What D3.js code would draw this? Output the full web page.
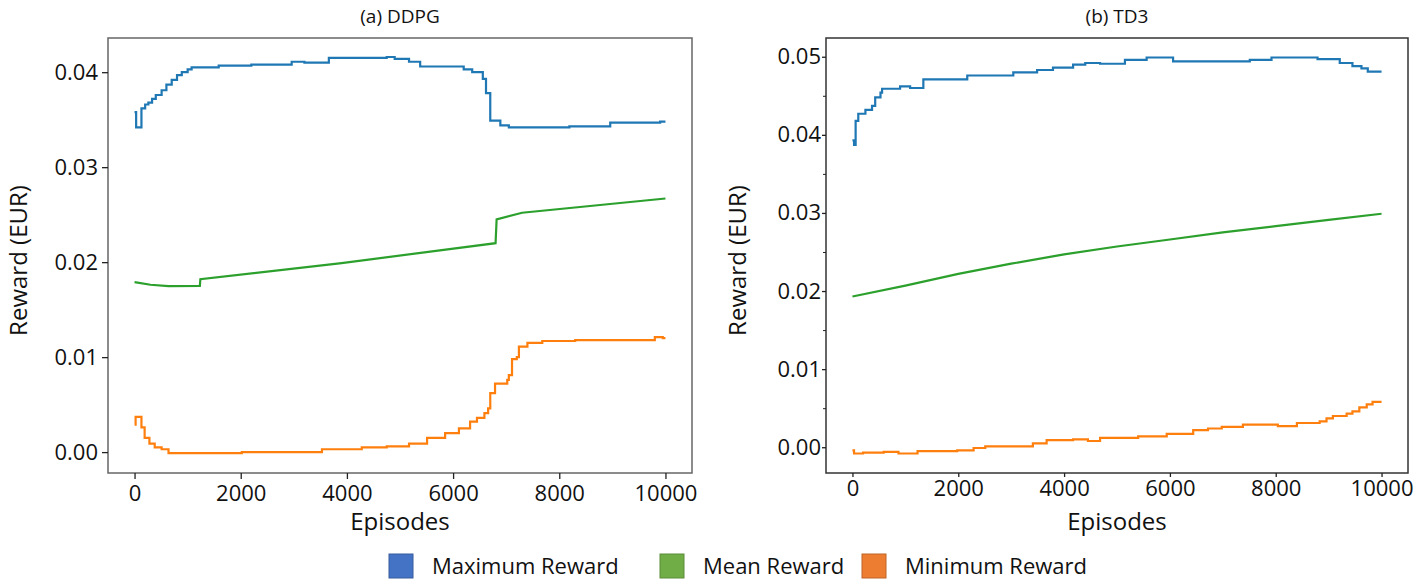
<!DOCTYPE html>
<html>
<head>
<meta charset="utf-8">
<script src="https://cdn.jsdelivr.net/npm/d3@7"></script>
<style>
  html, body { margin: 0; padding: 0; background: #fff; }
  svg { display: block; }
  text { font-family: "Open Sans", "Noto Sans", sans-serif; fill: #111; }
</style>
</head>
<body>
<svg id="chart" width="1415" height="580"></svg>
<script>
// ---------------- DATA ----------------
const seriesNames = ["Maximum Reward", "Mean Reward", "Minimum Reward"];
const panelTitles = ["(a) DDPG", "(b) TD3"];
const xTicks = [0, 2000, 4000, 6000, 8000, 10000];
const yTicksDDPG = [0.00, 0.01, 0.02, 0.03, 0.04];
const yTicksTD3 = [0.00, 0.01, 0.02, 0.03, 0.04, 0.05];
const yMinorTD3 = [0.005, 0.015, 0.025, 0.035, 0.045];

// DDPG: [episode, reward]
const ddpgMax = [[0,0.0358],[30,0.0342],[130,0.0362],[200,0.0366],[260,0.0368],[330,0.0372],[400,0.0376],[510,0.0381],[600,0.0387],[700,0.0392],[800,0.0397],[890,0.0400],[1000,0.0403],[1075,0.0405],[1585,0.0407],[2200,0.0408],[2960,0.0411],[3200,0.0410],[3660,0.0415],[4750,0.0416],[4900,0.0414],[5170,0.0411],[5380,0.0406],[6200,0.0403],[6360,0.0400],[6560,0.0393],[6620,0.0378],[6700,0.0349],[6890,0.0344],[7050,0.0342],[8190,0.0343],[8960,0.0347],[9900,0.0348],[10000,0.0348]];
const ddpgMean = [[0,0.0179],[300,0.01762],[640,0.01747],[1230,0.0175],[1240,0.0182],[3900,0.0199],[6800,0.0220],[6820,0.0245],[7300,0.0252],[10000,0.0267]];
const ddpgMin = [[0,0.0029],[20,0.0037],[130,0.0026],[190,0.0015],[280,0.0009],[380,0.0005],[510,0.0003],[640,-0.0001],[2020,0.0000],[3530,0.0003],[4280,0.0005],[4750,0.0006],[5170,0.0009],[5510,0.0015],[5850,0.0020],[6110,0.0025],[6320,0.0032],[6450,0.0036],[6590,0.0041],[6660,0.0046],[6700,0.0062],[6790,0.0072],[7020,0.0076],[7050,0.0081],[7110,0.0098],[7200,0.0100],[7240,0.0111],[7400,0.0115],[7680,0.0117],[8300,0.0118],[9800,0.0121],[9950,0.0120],[10000,0.0120]];

// TD3: [episode, reward]
const td3Max = [[0,0.0393],[30,0.0387],[60,0.0418],[110,0.0427],[245,0.0432],[370,0.0437],[430,0.0448],[530,0.0454],[560,0.0459],[900,0.0462],[1090,0.0460],[1340,0.0471],[2170,0.0476],[3040,0.0480],[3490,0.0483],[3790,0.0486],[4170,0.0490],[4400,0.0492],[4680,0.0491],[5150,0.0496],[5560,0.0499],[6060,0.0494],[7510,0.0496],[7920,0.0499],[8790,0.0497],[9210,0.0492],[9450,0.0488],[9620,0.0485],[9740,0.0481],[10000,0.0481]];
const td3Mean = [[0,0.0193],[1000,0.0207],[2000,0.0222],[3000,0.0235],[4000,0.0247],[5000,0.0257],[6000,0.0266],[7000,0.0275],[8000,0.0283],[9000,0.0291],[10000,0.0299]];
const td3Min = [[0,-0.0004],[30,-0.0008],[200,-0.0007],[590,-0.0006],[870,-0.0008],[1230,-0.0005],[1980,-0.0004],[2290,-0.0001],[2510,0.0001],[3410,0.0005],[3670,0.0009],[4170,0.0010],[4450,0.0008],[4680,0.0012],[5400,0.0014],[5940,0.0017],[6440,0.0022],[6720,0.0024],[6980,0.0026],[7380,0.0029],[8040,0.0027],[8400,0.0031],[8830,0.0033],[8960,0.0037],[9080,0.0040],[9340,0.0043],[9450,0.0046],[9580,0.0051],[9720,0.0055],[9830,0.0058],[10000,0.0058]];

const lineColors = ["#1f77b4", "#2ca02c", "#ff7f0e"];
const legendColors = ["#4472C4", "#70AD47", "#ED7D31"];

// ---------------- LAYOUT ----------------
const panels = [
  { title: panelTitles[0], x0: 108, x1: 692, y0: 38, y1: 473, yDomain: [-0.0022, 0.0436],
    yTicks: yTicksDDPG, yMinor: [], tickLen: 6, labelGap: 4, ylabBase: 27, frame: "#666",
    series: [ddpgMax, ddpgMean, ddpgMin] },
  { title: panelTitles[1], x0: 826, x1: 1408, y0: 38, y1: 473, yDomain: [-0.0033, 0.0524],
    yTicks: yTicksTD3, yMinor: yMinorTD3, tickLen: 4, labelGap: 1, ylabBase: 746, frame: "#333",
    series: [td3Max, td3Mean, td3Min] }
];

const svg = d3.select("#chart");

panels.forEach(p => {
  const x = d3.scaleLinear().domain([-500, 10500]).range([p.x0, p.x1]);
  const y = d3.scaleLinear().domain(p.yDomain).range([p.y1, p.y0]);
  const g = svg.append("g");

  // lines
  p.series.forEach((data, i) => {
    const curve = i === 1 ? d3.curveLinear : d3.curveStepAfter;
    const line = d3.line().x(d => x(d[0])).y(d => y(d[1])).curve(curve);
    g.append("path").datum(data)
      .attr("d", line)
      .attr("fill", "none")
      .attr("stroke", lineColors[i])
      .attr("stroke-width", 2.2)
      .attr("stroke-linejoin", "miter");
  });

  // frame
  g.append("rect")
    .attr("x", p.x0).attr("y", p.y0)
    .attr("width", p.x1 - p.x0).attr("height", p.y1 - p.y0)
    .attr("fill", "none").attr("stroke", p.frame).attr("stroke-width", 1.5);

  // x axis
  const xAxis = d3.axisBottom(x).tickValues(xTicks).tickFormat(d3.format("d"))
    .tickSize(p.tickLen).tickPadding(p.labelGap + 2);
  const gx = g.append("g").attr("transform", `translate(0,${p.y1})`).call(xAxis);
  gx.select(".domain").remove();
  gx.selectAll(".tick line").attr("stroke", "#222").attr("stroke-width", 1.3);
  gx.selectAll(".tick text").style("font-size", "22px").attr("fill", "#111")
    .style("font-family", "'Open Sans', sans-serif");

  // y axis
  const yAxis = d3.axisLeft(y).tickValues(p.yTicks).tickFormat(d3.format(".2f"))
    .tickSize(p.tickLen).tickPadding(p.labelGap);
  const gy = g.append("g").attr("transform", `translate(${p.x0},0)`).call(yAxis);
  gy.select(".domain").remove();
  gy.selectAll(".tick line").attr("stroke", "#222").attr("stroke-width", 1.3);
  gy.selectAll(".tick text").style("font-size", "22px").attr("fill", "#111")
    .style("font-family", "'Open Sans', sans-serif");

  if (p.yMinor.length) {
    const gm = g.append("g").attr("transform", `translate(${p.x0},0)`)
      .call(d3.axisLeft(y).tickValues(p.yMinor).tickFormat("").tickSize(3));
    gm.select(".domain").remove();
    gm.selectAll(".tick line").attr("stroke", "#222").attr("stroke-width", 1);
  }

  // title
  g.append("text")
    .attr("x", (p.x0 + p.x1) / 2).attr("y", 23)
    .attr("text-anchor", "middle")
    .style("font-size", "19px")
    .text(p.title);

  // x label
  g.append("text")
    .attr("x", (p.x0 + p.x1) / 2).attr("y", 530)
    .attr("text-anchor", "middle")
    .style("font-size", "24px")
    .text("Episodes");

  // y label
  g.append("text")
    .attr("transform", `translate(${p.ylabBase},${(p.y0 + p.y1) / 2 + 5}) rotate(-90)`)
    .attr("text-anchor", "middle")
    .style("font-size", "24px")
    .text("Reward (EUR)");
});

// legend
const legendX = [389, 660, 862];
const lg = svg.append("g");
seriesNames.forEach((name, i) => {
  lg.append("rect")
    .attr("x", legendX[i]).attr("y", 554)
    .attr("width", 24).attr("height", 24)
    .attr("fill", legendColors[i])
    .attr("stroke", d3.color(legendColors[i]).darker(0.6))
    .attr("stroke-width", 1);
  lg.append("text")
    .attr("x", legendX[i] + 43).attr("y", 574)
    .style("font-size", "22px")
    .text(name);
});
</script>
</body>
</html>
